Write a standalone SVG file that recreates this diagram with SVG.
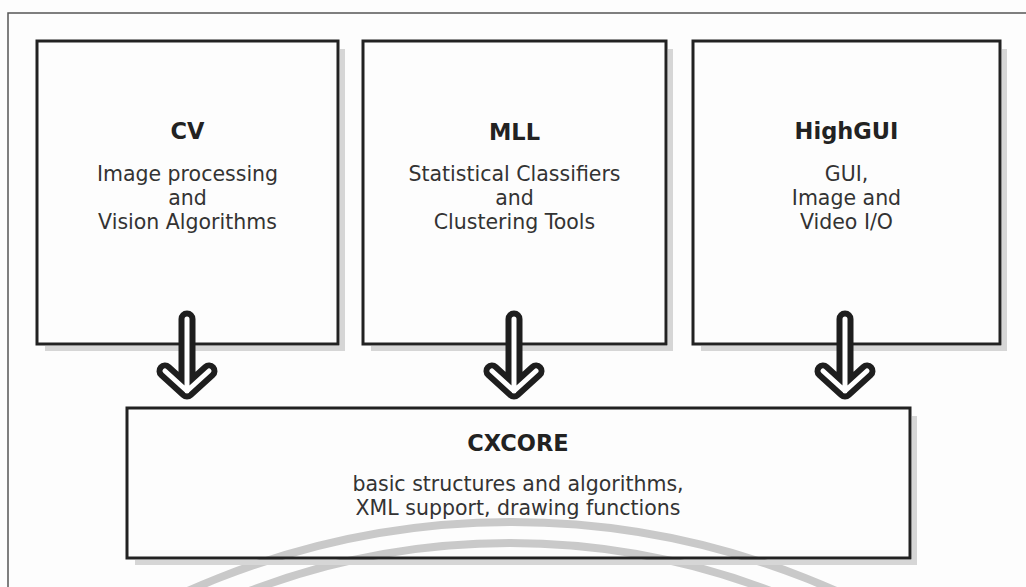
<svg xmlns="http://www.w3.org/2000/svg" width="1026" height="587" viewBox="0 0 1026 587">
  <style>
    .box { fill: none; stroke: #222; stroke-width: 3; }
    .shadow { fill: none; stroke: #d6d6d6; stroke-width: 5; }
    .title { font-family: "DejaVu Sans", "Open Sans", sans-serif; font-weight: bold; font-size: 22.5px; fill: #222; text-anchor: middle; }
    .sub { font-family: "DejaVu Sans", "Open Sans", sans-serif; font-size: 20.5px; fill: #333; text-anchor: middle; }
    .arrow-out { fill: none; stroke: #1e1e1e; stroke-width: 17; stroke-linecap: round; stroke-linejoin: round; }
    .arrow-in { fill: none; stroke: #ffffff; stroke-width: 5; stroke-linecap: round; stroke-linejoin: round; }
    .mark { fill: none; stroke: #c9c9c9; stroke-width: 8; }
  </style>
  <rect x="0" y="0" width="1026" height="587" fill="#fdfdfd"/>
  <rect x="8" y="13" width="1040" height="620" fill="none" stroke="#555" stroke-width="1.5"/>

  <g id="watermark">
    <circle class="mark" cx="512" cy="1318" r="796"/>
    <circle class="mark" cx="510" cy="1275" r="732"/>
  </g>

  <g id="cv">
    <path class="shadow" d="M342.5,49 V348.5 H45"/>
    <rect class="box" x="37" y="41" width="301" height="303"/>
    <text class="title" x="187.5" y="139">CV</text>
    <text class="sub" x="187.5" y="181">Image processing</text>
    <text class="sub" x="187.5" y="205">and</text>
    <text class="sub" x="187.5" y="229">Vision Algorithms</text>
  </g>

  <g id="mll">
    <path class="shadow" d="M670.5,49 V348.5 H371"/>
    <rect class="box" x="363" y="41" width="303" height="303"/>
    <text class="title" x="514.5" y="140">MLL</text>
    <text class="sub" x="514.5" y="181">Statistical Classifiers</text>
    <text class="sub" x="514.5" y="205">and</text>
    <text class="sub" x="514.5" y="229">Clustering Tools</text>
  </g>

  <g id="highgui">
    <path class="shadow" d="M1004.5,49 V348.5 H701"/>
    <rect class="box" x="693" y="41" width="307" height="303"/>
    <text class="title" x="846.5" y="139">HighGUI</text>
    <text class="sub" x="846.5" y="181">GUI,</text>
    <text class="sub" x="846.5" y="205">Image and</text>
    <text class="sub" x="846.5" y="229">Video I/O</text>
  </g>

  <g id="cxcore">
    <path class="shadow" d="M914.5,416 V562.5 H135"/>
    <rect class="box" x="127" y="408" width="783" height="150"/>
    <text class="title" x="518" y="451">CXCORE</text>
    <text class="sub" x="518" y="491">basic structures and algorithms,</text>
    <text class="sub" x="518" y="515">XML support, drawing functions</text>
  </g>

  <g id="connectors">
    <path class="arrow-out" d="M187,319 V391 M165,371 L187,391 L209,371"/>
    <path class="arrow-in" d="M187,319 V391 M165,371 L187,391 L209,371"/>
    <path class="arrow-out" d="M514,319 V391 M492,371 L514,391 L536,371"/>
    <path class="arrow-in" d="M514,319 V391 M492,371 L514,391 L536,371"/>
    <path class="arrow-out" d="M845,319 V391 M823,371 L845,391 L867,371"/>
    <path class="arrow-in" d="M845,319 V391 M823,371 L845,391 L867,371"/>
  </g>
</svg>
